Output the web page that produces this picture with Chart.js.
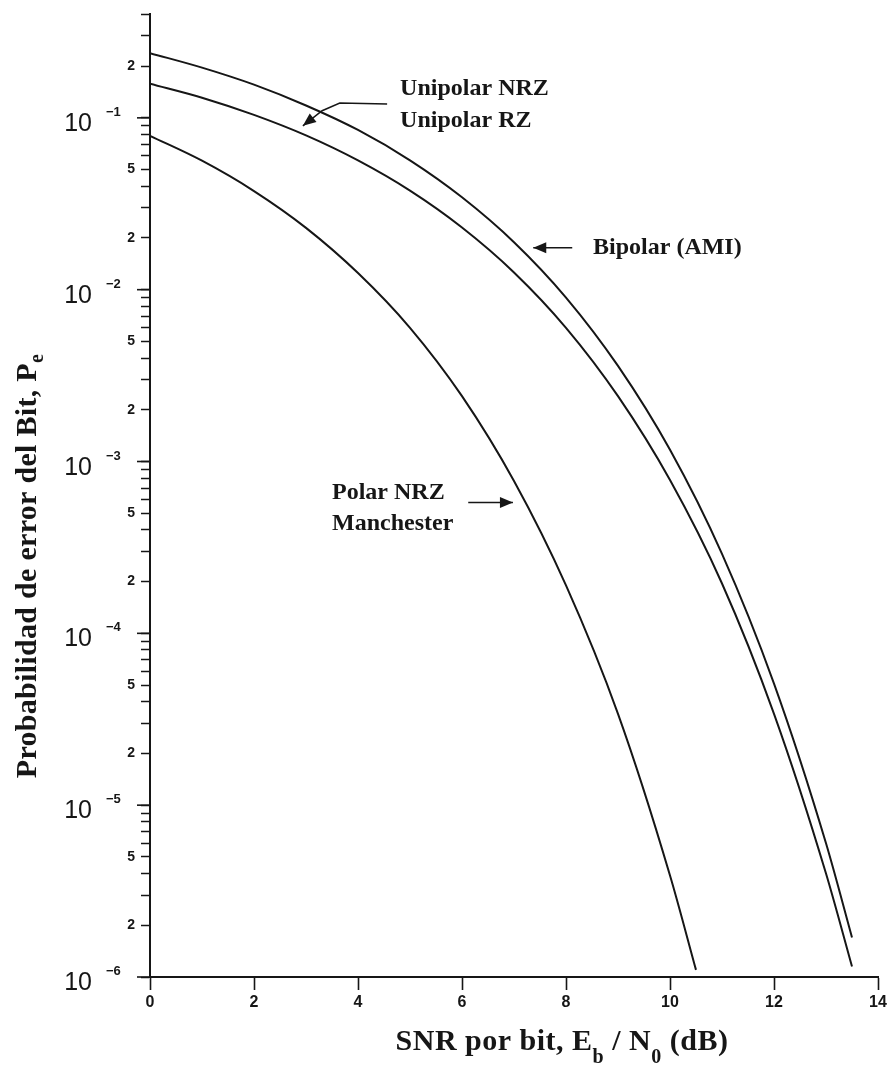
<!DOCTYPE html>
<html lang="es">
<head>
<meta charset="utf-8">
<title>Probabilidad de error del bit</title>
<script src="https://cdn.jsdelivr.net/npm/chart.js@4.4.1/dist/chart.umd.min.js"></script>
<style>
  html, body { margin: 0; padding: 0; background: #fff; }
  #contenedor { width: 891px; height: 1071px; }
</style>
</head>
<body>
<div id="contenedor"><canvas id="graficoPe" width="891" height="1071"></canvas></div>
<script>
// Valores: SNR por bit (dB) y probabilidad de error
const snrUnipolar = [0, 1, 2, 3, 4, 5, 6, 7, 8, 9, 10, 11, 12, 13, 13.5];
const peUnipolar = [0.158, 0.131, 0.104, 0.079, 0.0565, 0.0377, 0.023, 0.0126, 0.006, 0.0024, 7.8e-4, 1.95e-4, 3.4e-5, 4.0e-6, 1.15e-6];
const peBipolar = [0.238, 0.196, 0.156, 0.118, 0.085, 0.0566, 0.0345, 0.0189, 0.009, 0.0036, 1.17e-3, 2.9e-4, 5.1e-5, 6.0e-6, 1.7e-6];

const snrPolar = [0, 1, 2, 3, 4, 5, 6, 7, 8, 9, 10, 10.5];
const pePolar = [0.0786, 0.0563, 0.0375, 0.0229, 0.0125, 0.006, 0.0024, 7.7e-4, 1.9e-4, 3.4e-5, 3.9e-6, 1.1e-6];

// Marcas de los ejes
const marcasX = [0, 2, 4, 6, 8, 10, 12, 14];
const decadas = [-6, -5, -4, -3, -2];
const mantisas = [1, 2, 3, 4, 5, 6, 7, 8, 9];
const marcasSuperiores = [0.1, 0.2, 0.3, 0.4];
const mantisasConEtiqueta = [2, 5];

// Rótulos de las curvas (posición en unidades del gráfico)
const rotulos = [
    { texto: 'Unipolar NRZ', x: 4.81, y: 0.1475 },
    { texto: 'Unipolar RZ', x: 4.81, y: 0.0961 },
    { texto: 'Bipolar (AMI)', x: 8.52, y: 0.01754 },
    { texto: 'Polar NRZ', x: 3.5, y: 6.6e-4 },
    { texto: 'Manchester', x: 3.5, y: 4.36e-4 }
];

// Flechas: el último punto es la punta
const flechas = [
    [[4.56, 0.1205], [3.65, 0.122], [3.31, 0.110], [2.94, 0.0899]],
    [[8.12, 0.01754], [7.37, 0.01754]],
    [[6.12, 5.78e-4], [6.98, 5.78e-4]]
];

const colorTinta = '#161616';

function armarPuntos(xs, ys) {
    return xs.map((v, i) => ({ x: v, y: ys[i] }));
}

function mantisa(v) {
    const e = Math.floor(Math.log10(v) + 1e-9);
    return Math.round(v / Math.pow(10, e));
}

// Lista completa de marcas del eje Y
const marcasY = [];
decadas.forEach(d => mantisas.forEach(m => marcasY.push(m * Math.pow(10, d))));
marcasSuperiores.forEach(v => marcasY.push(v));

// Dibuja texto con subíndices: partes [texto, esSubindice]
function anchoPartes(ctx, partes, fuente, fuenteSub) {
    let ancho = 0;
    partes.forEach(p => {
        ctx.font = p[1] ? fuenteSub : fuente;
        ancho += ctx.measureText(p[0]).width;
    });
    return ancho;
}

function dibujarPartes(ctx, partes, x0, fuente, fuenteSub, bajada) {
    let x = x0;
    partes.forEach(p => {
        ctx.font = p[1] ? fuenteSub : fuente;
        ctx.fillText(p[0], x, p[1] ? bajada : 0);
        x += ctx.measureText(p[0]).width;
    });
}

const pluginDecoracion = {
    id: 'decoracion',
    afterDraw(chart) {
        const { ctx, chartArea, scales: { x, y } } = chart;
        ctx.save();
        ctx.fillStyle = colorTinta;
        ctx.strokeStyle = colorTinta;

        // Marcas largas y rótulos de las décadas
        marcasY.filter(v => mantisa(v) === 1).forEach(v => {
            const py = y.getPixelForValue(v);
            ctx.lineWidth = 1.6;
            ctx.beginPath();
            ctx.moveTo(chartArea.left - 13, py);
            ctx.lineTo(chartArea.left, py);
            ctx.stroke();

            const exp = Math.round(Math.log10(v));
            ctx.textAlign = 'right';
            ctx.textBaseline = 'alphabetic';
            ctx.font = '25px "Liberation Sans", Arial, sans-serif';
            ctx.fillText('10', chartArea.left - 58, py + 13);
            ctx.textAlign = 'left';
            ctx.font = 'bold 13px "Liberation Sans", Arial, sans-serif';
            ctx.fillText('\u2212' + Math.abs(exp), chartArea.left - 44, py - 2);
        });

        // Título del eje X con subíndices
        const fuente = 'bold 30px "Liberation Serif", "Times New Roman", serif';
        const fuenteSub = 'bold 20px "Liberation Serif", "Times New Roman", serif';
        const partesX = [['SNR por bit, E', false], ['b', true], [' / N', false], ['0', true], [' (dB)', false]];
        ctx.textAlign = 'left';
        ctx.textBaseline = 'alphabetic';
        ctx.save();
        ctx.letterSpacing = '0.5px';
        const anchoX = anchoPartes(ctx, partesX, fuente, fuenteSub);
        ctx.translate(562, 1050);
        dibujarPartes(ctx, partesX, -anchoX / 2, fuente, fuenteSub, 13);
        ctx.restore();

        // Título del eje Y, girado
        const partesY = [['Probabilidad de error del Bit, P', false], ['e', true]];
        ctx.save();
        ctx.letterSpacing = '0.3px';
        const anchoY = anchoPartes(ctx, partesY, fuente, fuenteSub);
        ctx.translate(36, 566);
        ctx.rotate(-Math.PI / 2);
        dibujarPartes(ctx, partesY, -anchoY / 2, fuente, fuenteSub, 7);
        ctx.restore();

        // Rótulos de las curvas
        ctx.font = 'bold 24px "Liberation Serif", "Times New Roman", serif';
        ctx.textAlign = 'left';
        ctx.textBaseline = 'middle';
        rotulos.forEach(r => {
            ctx.fillText(r.texto, x.getPixelForValue(r.x), y.getPixelForValue(r.y));
        });

        // Flechas
        flechas.forEach(f => {
            const pts = f.map(p => [x.getPixelForValue(p[0]), y.getPixelForValue(p[1])]);
            ctx.lineWidth = 1.5;
            ctx.beginPath();
            ctx.moveTo(pts[0][0], pts[0][1]);
            for (let i = 1; i < pts.length; i++) ctx.lineTo(pts[i][0], pts[i][1]);
            ctx.stroke();
            const [xa, ya] = pts[pts.length - 2];
            const [xp, yp] = pts[pts.length - 1];
            const ang = Math.atan2(yp - ya, xp - xa);
            ctx.beginPath();
            ctx.moveTo(xp, yp);
            ctx.lineTo(xp - 13 * Math.cos(ang) + 5.5 * Math.sin(ang), yp - 13 * Math.sin(ang) - 5.5 * Math.cos(ang));
            ctx.lineTo(xp - 13 * Math.cos(ang) - 5.5 * Math.sin(ang), yp - 13 * Math.sin(ang) + 5.5 * Math.cos(ang));
            ctx.closePath();
            ctx.fill();
        });

        ctx.restore();
    }
};

const estiloCurva = {
    borderColor: colorTinta,
    borderWidth: 2,
    pointRadius: 0,
    fill: false,
    cubicInterpolationMode: 'monotone'
};

const configuracion = {
    type: 'line',
    data: {
        datasets: [
            { label: 'Bipolar (AMI)', data: armarPuntos(snrUnipolar, peBipolar), ...estiloCurva },
            { label: 'Unipolar NRZ / RZ', data: armarPuntos(snrUnipolar, peUnipolar), ...estiloCurva },
            { label: 'Polar NRZ / Manchester', data: armarPuntos(snrPolar, pePolar), ...estiloCurva }
        ]
    },
    options: {
        responsive: false,
        animation: false,
        layout: { padding: { top: 14, right: 13, left: 0, bottom: 0 } },
        plugins: {
            legend: { display: false },
            tooltip: { enabled: false }
        },
        scales: {
            x: {
                type: 'linear',
                min: 0,
                max: 14,
                afterFit: s => { s.height = 94; },
                afterBuildTicks: s => { s.ticks = marcasX.map(v => ({ value: v })); },
                grid: { drawOnChartArea: false, tickLength: 13, tickColor: colorTinta, tickWidth: 1.6 },
                border: { color: colorTinta, width: 2 },
                ticks: {
                    color: colorTinta,
                    padding: 3,
                    font: { family: '"Liberation Sans", Arial, sans-serif', size: 16, weight: 'bold' }
                }
            },
            y: {
                type: 'logarithmic',
                min: 1e-6,
                max: 0.4,
                afterFit: s => { s.width = 150; },
                afterBuildTicks: s => { s.ticks = marcasY.map(v => ({ value: v })); },
                grid: { drawOnChartArea: false, tickLength: 9, tickColor: colorTinta, tickWidth: 1.5 },
                border: { color: colorTinta, width: 2 },
                ticks: {
                    autoSkip: false,
                    color: colorTinta,
                    padding: 6,
                    font: { family: '"Liberation Sans", Arial, sans-serif', size: 14, weight: 'bold' },
                    callback: v => {
                        const m = mantisa(v);
                        return (v < 0.35 && mantisasConEtiqueta.includes(m)) ? String(m) : '';
                    }
                }
            }
        }
    },
    plugins: [pluginDecoracion]
};

const graficoPe = new Chart(document.getElementById('graficoPe').getContext('2d'), configuracion);
</script>
</body>
</html>
